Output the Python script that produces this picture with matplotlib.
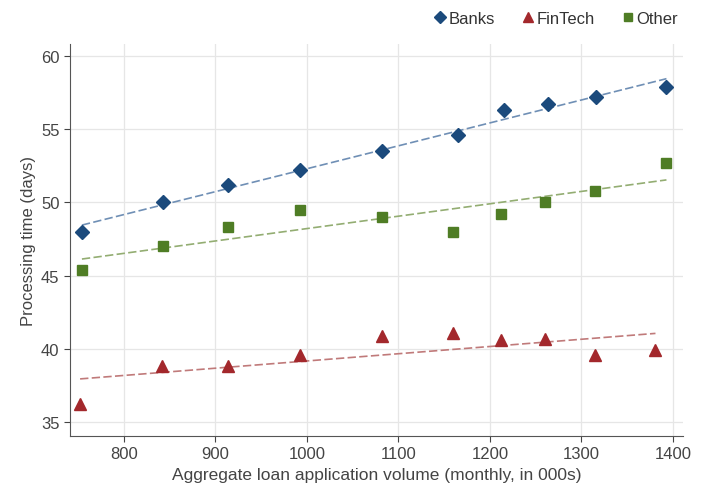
import numpy as np
import matplotlib
matplotlib.use("Agg")
import matplotlib.pyplot as plt

# loan application volume (monthly, 000s)
banks_x = [754, 843, 914, 992, 1082, 1165, 1215, 1264, 1316, 1393]
banks_y = [48.0, 50.0, 51.2, 52.2, 53.5, 54.6, 56.3, 56.7, 57.2, 57.9]

other_x = [754, 843, 914, 992, 1082, 1160, 1212, 1260, 1315, 1393]
other_y = [45.4, 47.0, 48.3, 49.5, 49.0, 48.0, 49.2, 50.0, 50.8, 52.7]

fintech_x = [752, 841, 914, 992, 1082, 1160, 1212, 1260, 1315, 1381]
fintech_y = [36.2, 38.8, 38.8, 39.6, 40.9, 41.1, 40.6, 40.7, 39.6, 39.9]

colors = {"Banks": "#1b4a7c", "FinTech": "#a3282c", "Other": "#4f7d25"}
fit_colors = {"Banks": "#6f8fb5", "FinTech": "#c07a7a", "Other": "#93ad72"}

plt.rcParams["font.family"] = ["Liberation Sans", "DejaVu Sans"]

fig = plt.figure(figsize=(7.11, 4.85), dpi=100)
ax = fig.add_axes([0.0985, 0.099, 0.862, 0.808])

series = [
    ("Banks", banks_x, banks_y, "D", 7.5),
    ("FinTech", fintech_x, fintech_y, "^", 8.5),
    ("Other", other_x, other_y, "s", 7.5),
]
for name, xs, ys, mk, ms in series:
    xs = np.array(xs, dtype=float)
    ys = np.array(ys, dtype=float)
    ax.plot(xs, ys, linestyle="none", marker=mk, markersize=ms,
            color=colors[name], label=name, zorder=3)
    slope, icpt = np.polyfit(xs, ys, 1)
    xf = np.array([xs.min(), xs.max()])
    ax.plot(xf, slope * xf + icpt, linestyle=(0, (5, 2)), linewidth=1.2,
            color=fit_colors[name], zorder=2)

ax.set_xlim(741, 1411)
ax.set_ylim(34.05, 60.8)
ax.set_xticks([800, 900, 1000, 1100, 1200, 1300, 1400])
ax.set_yticks([35, 40, 45, 50, 55, 60])
ax.grid(True, color="#e6e6e6", linewidth=0.9)
ax.set_axisbelow(True)
for s in ["top", "right"]:
    ax.spines[s].set_visible(False)
for s in ["left", "bottom"]:
    ax.spines[s].set_color("#555555")
ax.tick_params(colors="#444444", labelsize=12, length=4)

ax.set_xlabel("Aggregate loan application volume (monthly, in 000s)",
              fontsize=12.5, color="#444444")
ax.set_ylabel("Processing time (days)", fontsize=12, color="#444444")

ax.legend(loc="lower right", bbox_to_anchor=(1.016, 1.008), ncol=3, frameon=False,
          fontsize=12, handletextpad=0.0, columnspacing=1.5, handlelength=1.0,
          markerscale=0.8, labelcolor="#333333")

fig.savefig("out.png", dpi=100)
